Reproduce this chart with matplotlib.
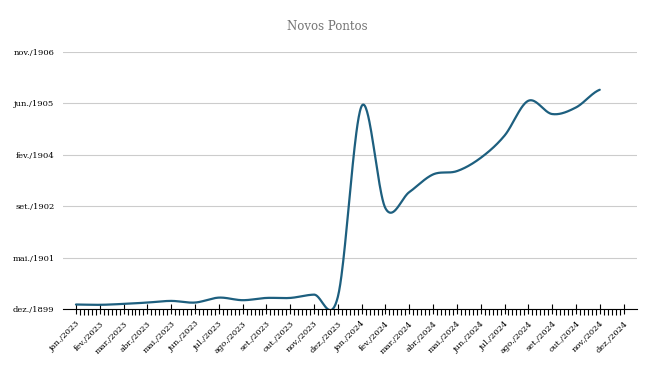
import numpy as np
import matplotlib.pyplot as plt
from matplotlib.ticker import FixedLocator, FuncFormatter
from datetime import date, timedelta

# Meses (eixo x) e valores da serie "Novos Pontos"
meses = ['jan.', 'fev.', 'mar.', 'abr.', 'mai.', 'jun.',
         'jul.', 'ago.', 'set.', 'out.', 'nov.', 'dez.']
rotulos_x = [m + '/2023' for m in meses] + [m + '/2024' for m in meses]
valores = [45, 42, 51, 64, 80, 64, 112, 87, 109, 109, 141, 120,
           1975, 980, 1138, 1310, 1342, 1471, 1687, 2026, 1897, 1961, 2133]
y_ticks = [0, 500, 1000, 1500, 2000, 2500]

cor_linha = '#1d5f7f'


def catmull_rom(y, n=40):
    # suavizacao tipo "linha suavizada" do Excel
    y = np.asarray(y, dtype=float)
    p = np.concatenate([[y[0]], y, [y[-1]]])
    xs, ys = [], []
    for i in range(len(y) - 1):
        t = np.linspace(0, 1, n, endpoint=False)
        p0, p1, p2, p3 = p[i], p[i + 1], p[i + 2], p[i + 3]
        m1 = (p2 - p0) / 2
        m2 = (p3 - p1) / 2
        h00 = 2 * t**3 - 3 * t**2 + 1
        h10 = t**3 - 2 * t**2 + t
        h01 = -2 * t**3 + 3 * t**2
        h11 = t**3 - t**2
        xs.append(i + t)
        ys.append(h00 * p1 + h10 * m1 + h01 * p2 + h11 * m2)
    xs.append([len(y) - 1])
    ys.append([y[-1]])
    return np.concatenate(xs), np.concatenate(ys)


def fmt_data(v, pos):
    d = date(1899, 12, 30) + timedelta(days=int(round(v)))
    return f'{meses[d.month - 1]}/{d.year}'


plt.rcParams['font.family'] = 'DejaVu Serif'

fig = plt.figure(figsize=(6.55, 3.77), dpi=100)
ax = fig.add_axes([0.096, 0.18, 0.876, 0.682])

xs, ys = catmull_rom(valores)
ax.plot(xs, ys, color=cor_linha, lw=1.6, solid_capstyle='round')

ax.set_xlim(-0.55, len(rotulos_x) - 1 + 0.55)
ax.set_ylim(0, 2500)

ax.set_xticks(range(len(rotulos_x)))
ax.set_xticklabels(rotulos_x, rotation=45, ha='right', rotation_mode='anchor',
                   fontsize=6)
minors = [i + k / 6 for i in range(len(rotulos_x) - 1) for k in range(1, 6)]
ax.xaxis.set_minor_locator(FixedLocator(minors))
ax.tick_params(axis='x', which='major', direction='inout', length=7, width=0.8,
               pad=4, color='black')
ax.tick_params(axis='x', which='minor', direction='out', length=4, width=0.8,
               color='black')

ax.set_yticks(y_ticks)
ax.yaxis.set_major_formatter(FuncFormatter(fmt_data))
ax.tick_params(axis='y', length=0, pad=6, labelsize=6)
ax.grid(axis='y', color='#cccccc', lw=0.8)
ax.set_axisbelow(True)

for s in ['top', 'right', 'left']:
    ax.spines[s].set_visible(False)
ax.spines['bottom'].set_color('black')
ax.spines['bottom'].set_linewidth(0.8)

fig.text(0.5, 1 - 27 / 377, 'Novos Pontos', fontsize=8.5, color='#757575',
         ha='center', va='center')

plt.savefig('out.png', dpi=100)
